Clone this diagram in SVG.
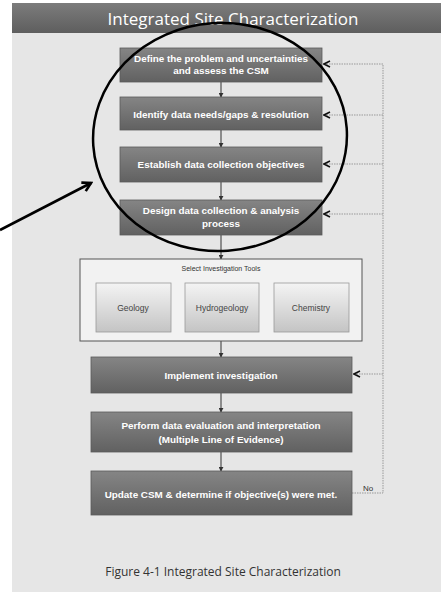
<svg xmlns="http://www.w3.org/2000/svg" width="441" height="592" viewBox="0 0 441 592">
<defs>
<linearGradient id="dark" x1="0" y1="0" x2="0" y2="1">
<stop offset="0" stop-color="#858585"/><stop offset="1" stop-color="#616161"/>
</linearGradient>
<linearGradient id="title" x1="0" y1="0" x2="0" y2="1">
<stop offset="0" stop-color="#7c7c7c"/><stop offset="1" stop-color="#5e5e5e"/>
</linearGradient>
<linearGradient id="light" x1="0" y1="0" x2="0" y2="1">
<stop offset="0" stop-color="#f4f4f4"/><stop offset="1" stop-color="#c4c4c4"/>
</linearGradient>
<marker id="down" viewBox="0 0 6 6" refX="5" refY="3" markerWidth="5" markerHeight="5" orient="auto">
<path d="M0,0 L6,3 L0,6 z" fill="#333"/>
</marker>
<marker id="open" viewBox="0 0 8 8" refX="7" refY="4" markerWidth="8" markerHeight="8" orient="auto" markerUnits="userSpaceOnUse">
<path d="M1,1 L7,4 L1,7" fill="none" stroke="#111" stroke-width="1.6" stroke-dasharray="none"/>
</marker>
<marker id="big" viewBox="0 0 10 10" refX="8" refY="5" markerWidth="12" markerHeight="12" orient="auto" markerUnits="userSpaceOnUse">
<path d="M1,1 L8,5 L1,9" fill="none" stroke="#000" stroke-width="2.2"/>
</marker>
</defs>
<style>
.box{fill:url(#dark);stroke:#5a5a5a;stroke-width:0.8}
.wt{fill:#fff;font-family:"Liberation Sans",Arial,sans-serif;font-weight:bold;font-size:9.9px;text-anchor:middle}
.tool{fill:url(#light);stroke:#9a9a9a;stroke-width:0.8}
.tt{fill:#444;font-family:"Liberation Sans",Arial,sans-serif;font-size:8.5px;text-anchor:middle}
.flow{stroke:#333;stroke-width:1;fill:none;marker-end:url(#down)}
.fb{stroke:#999;stroke-width:1;stroke-dasharray:1.5,1;fill:none}
.fba{stroke:#999;stroke-width:1;stroke-dasharray:1.5,1;fill:none;marker-end:url(#open)}
</style>
<rect x="0" y="0" width="441" height="592" fill="#fff"/>
<rect x="12" y="3" width="429" height="589" fill="#e6e6e6"/>
<g id="title-bar">
<rect x="12" y="3" width="429" height="30" fill="url(#title)"/>
<text x="233" y="25" fill="#fff" font-family="'Open Sans','Liberation Sans',sans-serif" font-size="17" text-anchor="middle">Integrated Site Characterization</text>
</g>
<g id="connectors">
<line class="flow" x1="221" y1="82" x2="221" y2="97"/>
<line class="flow" x1="221" y1="130" x2="221" y2="147"/>
<line class="flow" x1="221" y1="182" x2="221" y2="200"/>
<line class="flow" x1="221" y1="235" x2="221" y2="259"/>
<line class="flow" x1="221" y1="341" x2="221" y2="357"/>
<line class="flow" x1="221" y1="393" x2="221" y2="412"/>
<line class="flow" x1="221" y1="452" x2="221" y2="471"/>
<polyline class="fb" points="352,493 383,493 383,64"/>
<line class="fba" x1="383" y1="64" x2="324" y2="64"/>
<line class="fba" x1="383" y1="115" x2="324" y2="115"/>
<line class="fba" x1="383" y1="164" x2="324" y2="164"/>
<line class="fba" x1="383" y1="214" x2="324" y2="214"/>
<line class="fba" x1="383" y1="374" x2="354" y2="374"/>
<text x="368" y="491" fill="#333" font-family="'Liberation Sans',Arial,sans-serif" font-size="8" text-anchor="middle">No</text>
</g>
<g id="n1"><rect class="box" x="120" y="48" width="202" height="34"/>
<text class="wt" x="221" y="62">Define the problem and uncertainties</text>
<text class="wt" x="221" y="74">and assess the CSM</text></g>
<g id="n2"><rect class="box" x="120" y="97" width="202" height="33"/>
<text class="wt" x="221" y="118">Identify data needs/gaps &amp; resolution</text></g>
<g id="n3"><rect class="box" x="120" y="147" width="202" height="35"/>
<text class="wt" x="221" y="168">Establish data collection objectives</text></g>
<g id="n4"><rect class="box" x="120" y="200" width="202" height="35"/>
<text class="wt" x="221" y="214">Design data collection &amp; analysis</text>
<text class="wt" x="221" y="227">process</text></g>
<g id="n5"><rect x="80" y="259" width="282" height="82" fill="#f2f2f2" stroke="#555" stroke-width="1"/>
<text x="221" y="271" fill="#333" font-family="'Liberation Sans',Arial,sans-serif" font-size="7" text-anchor="middle">Select Investigation Tools</text></g>
<g id="geology"><rect class="tool" x="96" y="283" width="75" height="49"/>
<text class="tt" x="133" y="311">Geology</text></g>
<g id="hydrogeology"><rect class="tool" x="185" y="283" width="74" height="49"/>
<text class="tt" x="222" y="311">Hydrogeology</text></g>
<g id="chemistry"><rect class="tool" x="274" y="283" width="75" height="49"/>
<text class="tt" x="311" y="311">Chemistry</text></g>
<g id="n6"><rect class="box" x="91" y="357" width="261" height="36"/>
<text class="wt" x="221" y="379">Implement investigation</text></g>
<g id="n7"><rect class="box" x="91" y="412" width="261" height="40"/>
<text class="wt" x="221" y="429">Perform data evaluation and interpretation</text>
<text class="wt" x="221" y="443">(Multiple Line of Evidence)</text></g>
<g id="n8"><rect class="box" x="91" y="471" width="261" height="44"/>
<text class="wt" x="221" y="498">Update CSM &amp; determine if objective(s) were met.</text></g>
<g id="annotation">
<ellipse cx="220" cy="137" rx="127" ry="114" fill="none" stroke="#000" stroke-width="2.5" transform="rotate(-4 220 137)"/>
<line x1="0" y1="230" x2="91" y2="183" stroke="#000" stroke-width="2.6" marker-end="url(#big)"/>
</g>
<text x="223" y="576" fill="#333" font-family="'Open Sans','Liberation Sans',sans-serif" font-size="12" text-anchor="middle">Figure 4-1 Integrated Site Characterization</text>
</svg>
